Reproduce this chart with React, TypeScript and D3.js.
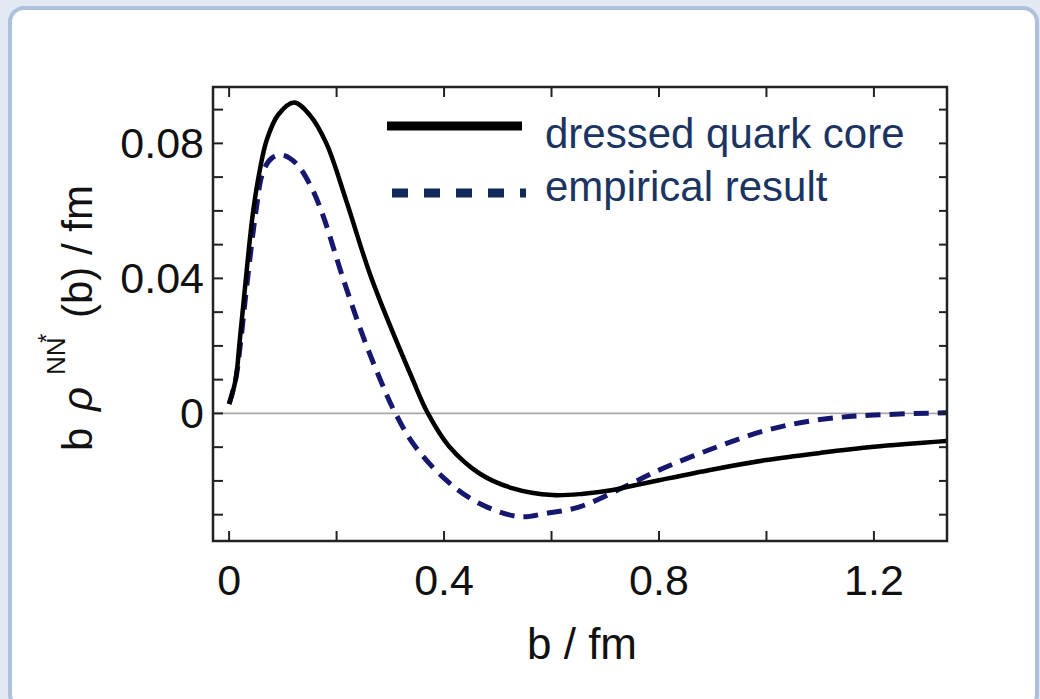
import React from "react";
import * as d3 from "d3";

// ---- data ----
const coreX = [0, 0.012, 0.02, 0.03, 0.044, 0.057, 0.07, 0.091, 0.121, 0.15, 0.181, 0.218, 0.265, 0.342, 0.37, 0.41, 0.466, 0.528, 0.602, 0.66, 0.714, 0.74, 0.8, 0.9, 1.0, 1.1, 1.2, 1.335];
const coreY = [0.0028, 0.0099, 0.022, 0.038, 0.059, 0.072, 0.081, 0.0884, 0.0921, 0.0884, 0.08, 0.063, 0.04, 0.0099, 0, -0.0099, -0.0178, -0.0222, -0.0242, -0.0238, -0.0227, -0.0218, -0.0198, -0.0166, -0.0138, -0.0117, -0.0099, -0.0082];

const empX = [0, 0.012, 0.022, 0.033, 0.05, 0.063, 0.08, 0.1, 0.125, 0.153, 0.175, 0.212, 0.25, 0.28, 0.308, 0.345, 0.404, 0.466, 0.541, 0.59, 0.652, 0.735, 0.8, 0.9, 1.0, 1.1, 1.2, 1.335];
const empY = [0.0028, 0.0099, 0.022, 0.038, 0.06, 0.0715, 0.0757, 0.0765, 0.074, 0.067, 0.0585, 0.04, 0.0225, 0.0105, 0.0005, -0.0095, -0.0198, -0.0267, -0.0306, -0.0296, -0.0277, -0.0218, -0.0168, -0.0104, -0.005, -0.0018, -0.0005, 0.0002];

const xTicks = [0, 0.2, 0.4, 0.6, 0.8, 1.0, 1.2];
const xTickLabels = ["0", "0.4", "0.8", "1.2"];
const xLabelValues = [0, 0.4, 0.8, 1.2];
const yTicks = [-0.03, -0.02, -0.01, 0, 0.01, 0.02, 0.03, 0.04, 0.05, 0.06, 0.07, 0.08, 0.09];
const yLabelValues = [0, 0.04, 0.08];
const yTickLabels = ["0", "0.04", "0.08"];
const legendLabels = ["dressed quark core", "empirical result"];

const W = 1040;
const H = 699;
const L = 213, R = 947, T = 87, B = 541;

export default function App() {
  const x = d3.scaleLinear().domain([-0.03, 1.336]).range([L, R]);
  const y = d3.scaleLinear().domain([-0.0378, 0.0967]).range([B, T]);

  const line = d3
    .line<[number, number]>()
    .x((d) => x(d[0]))
    .y((d) => y(d[1]))
    .curve(d3.curveCatmullRom.alpha(0.5));

  const corePts: [number, number][] = coreX.map((v, i) => [v, coreY[i]]);
  const empPts: [number, number][] = empX.map((v, i) => [v, empY[i]]);

  const font = "'Liberation Sans', Arial, sans-serif";
  const tickLen = 10;

  return (
    <div style={{ position: "absolute", left: 0, top: 0 }}>
      <svg width={W} height={H} viewBox={`0 0 ${W} ${H}`} style={{ display: "block" }}>
        <defs>
          <clipPath id="plotClip">
            <rect x={L} y={T} width={R - L} height={B - T} />
          </clipPath>
        </defs>
        {/* background */}
        <rect x={0} y={0} width={W} height={H} fill="#e2e9f2" />
        <rect x={10} y={8} width={1027} height={700} rx={14} ry={14} fill="#ffffff" stroke="#adc0dd" strokeWidth={4} />

        {/* zero line */}
        <line x1={L} x2={R} y1={y(0)} y2={y(0)} stroke="#a8a8a8" strokeWidth={1.6} />

        {/* curves */}
        <g clipPath="url(#plotClip)">
          <path d={line(empPts) || ""} fill="none" stroke="#16176e" strokeWidth={5} strokeDasharray="15 9" />
          <path d={line(corePts) || ""} fill="none" stroke="#000000" strokeWidth={4.5} strokeLinejoin="round" />
        </g>

        {/* ticks */}
        {xTicks.map((t) => (
          <g key={"xt" + t}>
            <line x1={x(t)} x2={x(t)} y1={B} y2={B - tickLen} stroke="#222" strokeWidth={2} />
            <line x1={x(t)} x2={x(t)} y1={T} y2={T + tickLen} stroke="#222" strokeWidth={2} />
          </g>
        ))}
        {yTicks.map((t) => (
          <g key={"yt" + t}>
            <line x1={L} x2={L + tickLen} y1={y(t)} y2={y(t)} stroke="#222" strokeWidth={2} />
            <line x1={R} x2={R - 8} y1={y(t)} y2={y(t)} stroke="#222" strokeWidth={2} />
          </g>
        ))}

        {/* frame */}
        <rect x={L} y={T} width={R - L} height={B - T} fill="none" stroke="#222" strokeWidth={2.5} />

        {/* tick labels */}
        {xLabelValues.map((v, i) => (
          <text key={"xl" + v} x={x(v)} y={595} textAnchor="middle" fontFamily={font} fontSize={43} fill="#111">
            {xTickLabels[i]}
          </text>
        ))}
        {yLabelValues.map((v, i) => (
          <text key={"yl" + v} x={204} y={y(v) + 15} textAnchor="end" fontFamily={font} fontSize={43} fill="#111">
            {yTickLabels[i]}
          </text>
        ))}

        {/* axis titles */}
        <text x={582} y={659} textAnchor="middle" fontFamily={font} fontSize={44} fill="#111">
          b / fm
        </text>
        <g transform="translate(92,0) rotate(-90)" fontFamily={font} fill="#111">
          <text x={-451} y={0} fontSize={42}>b</text>
          <text x={-411} y={0} fontSize={42} fontStyle="italic">ρ</text>
          <text x={-375} y={-27} fontSize={26}>NN</text>
          <text x={-343} y={-37} fontSize={24}>*</text>
          <text x={-318} y={0} fontSize={42}>(b) / fm</text>
        </g>

        {/* legend */}
        <line x1={387} x2={522} y1={126} y2={126} stroke="#000" strokeWidth={9} />
        <line x1={392} x2={526} y1={193} y2={193} stroke="#0f2a58" strokeWidth={9} strokeDasharray="16 16" />
        <text x={545} y={148} fontFamily={font} fontSize={42} fill="#1b3461">
          {legendLabels[0]}
        </text>
        <text x={545} y={201} fontFamily={font} fontSize={42} fill="#1b3461">
          {legendLabels[1]}
        </text>
      </svg>
    </div>
  );
}
